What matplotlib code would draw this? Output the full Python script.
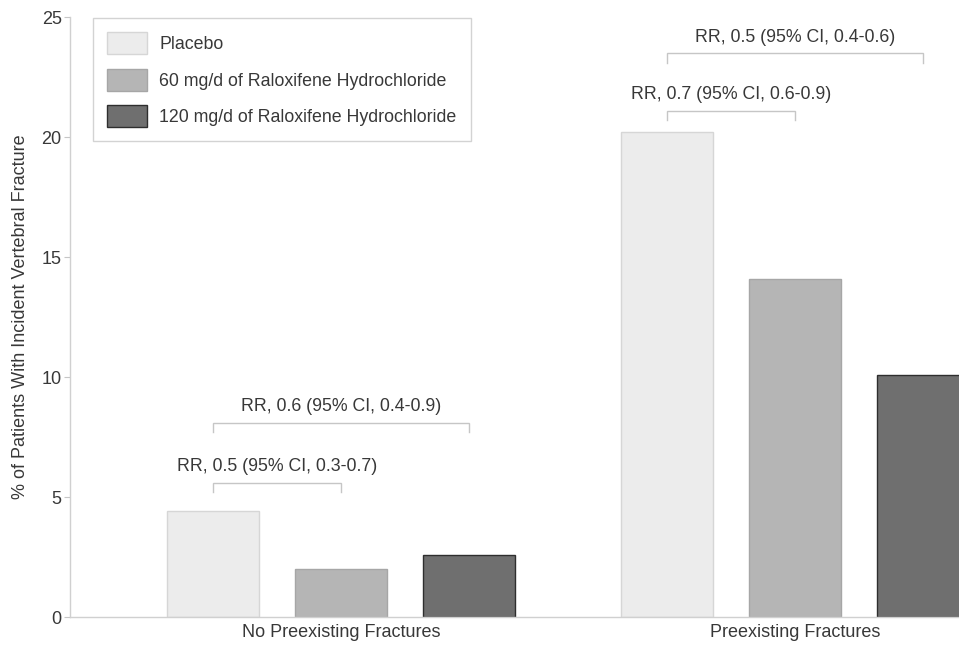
import matplotlib.pyplot as plt
import numpy as np

plt.rcParams['font.family'] = ['Liberation Sans', 'DejaVu Sans']

# data
groups = ["No Preexisting Fractures", "Preexisting Fractures"]
series = ["Placebo", "60 mg/d of Raloxifene Hydrochloride",
          "120 mg/d of Raloxifene Hydrochloride"]
placebo = [4.4, 20.2]
ralox_60 = [2.0, 14.1]
ralox_120 = [2.6, 10.1]
rr_labels = [
    ["RR, 0.5 (95% CI, 0.3-0.7)", "RR, 0.6 (95% CI, 0.4-0.9)"],
    ["RR, 0.7 (95% CI, 0.6-0.9)", "RR, 0.5 (95% CI, 0.4-0.6)"],
]

# styling / layout
face = ["#ececec", "#b5b5b5", "#6f6f6f"]
edge = ["#d6d6d6", "#a6a6a6", "#2e2e2e"]
txt = "#383838"
grey = "#c6c6c6"
width = 0.72
group_x = np.array([0.0, 3.55])
bracket_y = [[5.6, 8.1], [21.1, 23.5]]
fs = 12.8

fig = plt.figure(figsize=(9.59, 6.46), dpi=100)
ax = fig.add_axes([70 / 959, 29 / 646, 1 - 70 / 959, 600 / 646])

values = [placebo, ralox_60, ralox_120]
for i, vals in enumerate(values):
    ax.bar(group_x + i, vals, width=width, color=face[i], edgecolor=edge[i],
           linewidth=1.0, label=series[i], zorder=2)

# RR brackets
for g, gx in enumerate(group_x):
    for k, other in enumerate([1, 2]):
        x0, x1 = gx, gx + other
        y = bracket_y[g][k]
        ax.plot([x0, x0, x1, x1], [y - 0.4, y, y, y - 0.4], color=grey,
                lw=1.0, solid_joinstyle='miter', zorder=1)
        ax.text((x0 + x1) / 2, y + 0.3, rr_labels[g][k], ha='center',
                va='bottom', fontsize=fs, color=txt)

ax.set_xlim(-1.117, 5.828)
ax.set_ylim(0, 25)
ax.set_yticks(range(0, 26, 5))
ax.set_xticks(group_x + 1)
ax.set_xticklabels(groups)
ax.tick_params(axis='x', length=0, pad=5, labelsize=13, labelcolor=txt)
ax.tick_params(axis='y', length=4, color=grey, pad=2, labelsize=13,
               labelcolor=txt)
for s in ['top', 'right']:
    ax.spines[s].set_visible(False)
for s in ['left', 'bottom']:
    ax.spines[s].set_color("#d0d0d0")
    ax.spines[s].set_linewidth(1.0)
ax.set_ylabel("% of Patients With Incident Vertebral Fracture", fontsize=13,
              color=txt, labelpad=9)

leg = ax.legend(loc='upper left', bbox_to_anchor=(93 / 959, 1 - 18 / 646),
                bbox_transform=fig.transFigure, fontsize=fs, frameon=True,
                fancybox=False, edgecolor="#c8c8c8", handlelength=2.25,
                handleheight=1.5, labelspacing=0.84, handletextpad=0.67,
                borderpad=0.8, borderaxespad=0)
leg.get_frame().set_linewidth(1.0)
for t in leg.get_texts():
    t.set_color(txt)

fig.savefig("out.png", dpi=100)
